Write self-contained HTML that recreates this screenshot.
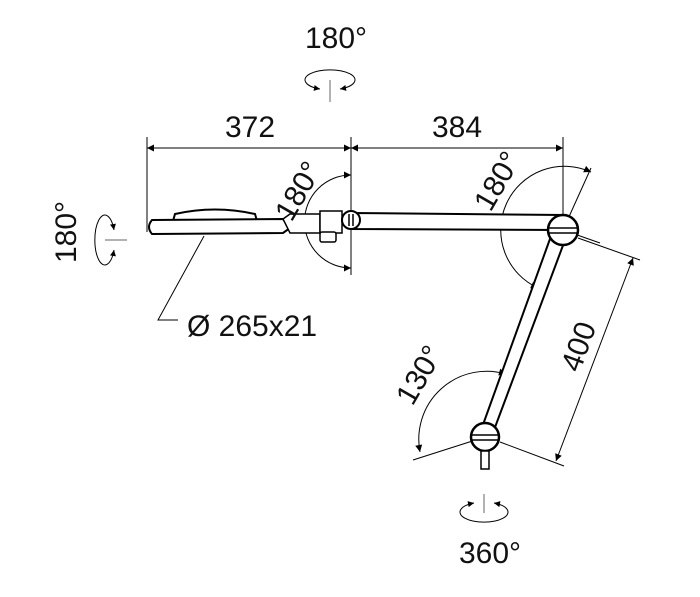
<!DOCTYPE html>
<html><head><style>
html,body{margin:0;padding:0;background:#fff;}
svg{display:block;}
text{font-family:"Liberation Sans",Arial,sans-serif;fill:#111;}
</style></head><body>
<svg width="700" height="597" viewBox="0 0 700 597" xmlns="http://www.w3.org/2000/svg">
<defs>
<marker id="ar" viewBox="0 0 10 10" refX="10" refY="5" markerWidth="18" markerHeight="7" markerUnits="userSpaceOnUse" orient="auto-start-reverse"><path d="M0,0 L10,5 L0,10 z" fill="#000"/></marker>
<marker id="sa" viewBox="0 0 10 10" refX="10" refY="5" markerWidth="10" markerHeight="6" markerUnits="userSpaceOnUse" orient="auto-start-reverse"><path d="M0,0 L10,5 L0,10 z" fill="#000"/></marker>
</defs>
<g stroke="#000" fill="none" stroke-width="1">
<line x1="147" y1="137" x2="147" y2="232"/>
<line x1="351" y1="137" x2="351" y2="275"/>
<line x1="563" y1="137" x2="563" y2="228"/>
<line x1="147" y1="148" x2="351" y2="148" marker-start="url(#ar)" marker-end="url(#ar)"/>
<line x1="351" y1="148" x2="563" y2="148" marker-start="url(#ar)" marker-end="url(#ar)"/>
<!-- top icon -->
<path d="M320,89 A25,10 0 1 1 340,89" marker-start="url(#sa)" marker-end="url(#sa)"/>
<line x1="330" y1="80" x2="330" y2="102" stroke="#666"/>
<!-- left icon -->
<path d="M114,230 A10,25 0 1 0 114,250" marker-start="url(#sa)" marker-end="url(#sa)"/>
<line x1="105" y1="240" x2="127" y2="240" stroke="#666"/>
<!-- bottom icon -->
<path d="M474,503 A24,10 0 1 0 494,503" marker-start="url(#sa)" marker-end="url(#sa)"/>
<line x1="484" y1="494" x2="484" y2="513" stroke="#666"/>
<!-- left 180 arc -->
<path d="M351,175 A46,46 0 0 0 351,268" marker-start="url(#ar)" marker-end="url(#ar)"/>
<!-- right 180 arc -->
<path d="M591,172 A63,63 0 1 0 538,288" marker-start="url(#ar)" marker-end="url(#ar)"/>
<line x1="563" y1="230" x2="591" y2="168"/>
<line x1="563" y1="230" x2="600" y2="243"/>
<!-- 400 dim -->
<line x1="578" y1="238" x2="640" y2="260"/>
<line x1="500" y1="442" x2="564" y2="466"/>
<line x1="633" y1="258" x2="556" y2="461" marker-start="url(#ar)" marker-end="url(#ar)"/>
<!-- 130 arc -->
<line x1="485" y1="437" x2="413" y2="460"/>
<path d="M506,374 A68,68 0 0 0 420,452" marker-start="url(#ar)" marker-end="url(#ar)"/>
<polyline points="204,236 158,320 178,320"/>
</g>
<g stroke="#000" fill="#fff" stroke-width="2">
<path d="M173,221 L175,214 Q215,205 255,214 L257,221 z"/>
<path d="M152,220 L283,219 L290,228 L283,233 L152,234 Q146,227 152,220 z"/>
<path d="M283,219 L290,214 L320,214 L320,233 L290,233 z" stroke-width="1.5"/>
<rect x="320" y="211" width="22" height="22" stroke-width="1.5"/>
<rect x="320" y="232" width="16" height="10" rx="2" stroke-width="1.5"/>
<path d="M351,213 L563,215 L563,230 L351,229 z"/>
<path d="M555,225 L480,433 L491,438 L568,232 z"/>
<circle cx="351" cy="220" r="9"/>
<circle cx="563" cy="230" r="15" stroke-width="2.5"/>
<circle cx="485" cy="437" r="14" stroke-width="2.5"/>
<rect x="481" y="451" width="8" height="18" stroke-width="1.5"/>
</g>
<g stroke="#000" stroke-width="1.5">
<line x1="349" y1="214" x2="349" y2="226"/><line x1="353" y1="214" x2="353" y2="226"/>
<line x1="549" y1="228" x2="577" y2="228"/><line x1="549" y1="233" x2="577" y2="233"/>
<line x1="472" y1="435" x2="498" y2="435"/><line x1="472" y1="440" x2="498" y2="440"/>
</g>
<g font-size="30">
<text x="250" y="137" text-anchor="middle">372</text>
<text x="457" y="137" text-anchor="middle">384</text>
<text x="336" y="48" text-anchor="middle">180°</text>
<text x="490" y="563" text-anchor="middle">360°</text>
<text x="187" y="336">Ø 265x21</text>
<text transform="translate(76,232) rotate(-90)" text-anchor="middle">180°</text>
<text transform="translate(307,196) rotate(-60)" text-anchor="middle">180°</text>
<text transform="translate(506,186) rotate(-60)" text-anchor="middle">180°</text>
<text transform="translate(428,380) rotate(-60)" text-anchor="middle">130°</text>
<text transform="translate(588,350) rotate(-70)" text-anchor="middle">400</text>
</g>
</svg>
</body></html>
